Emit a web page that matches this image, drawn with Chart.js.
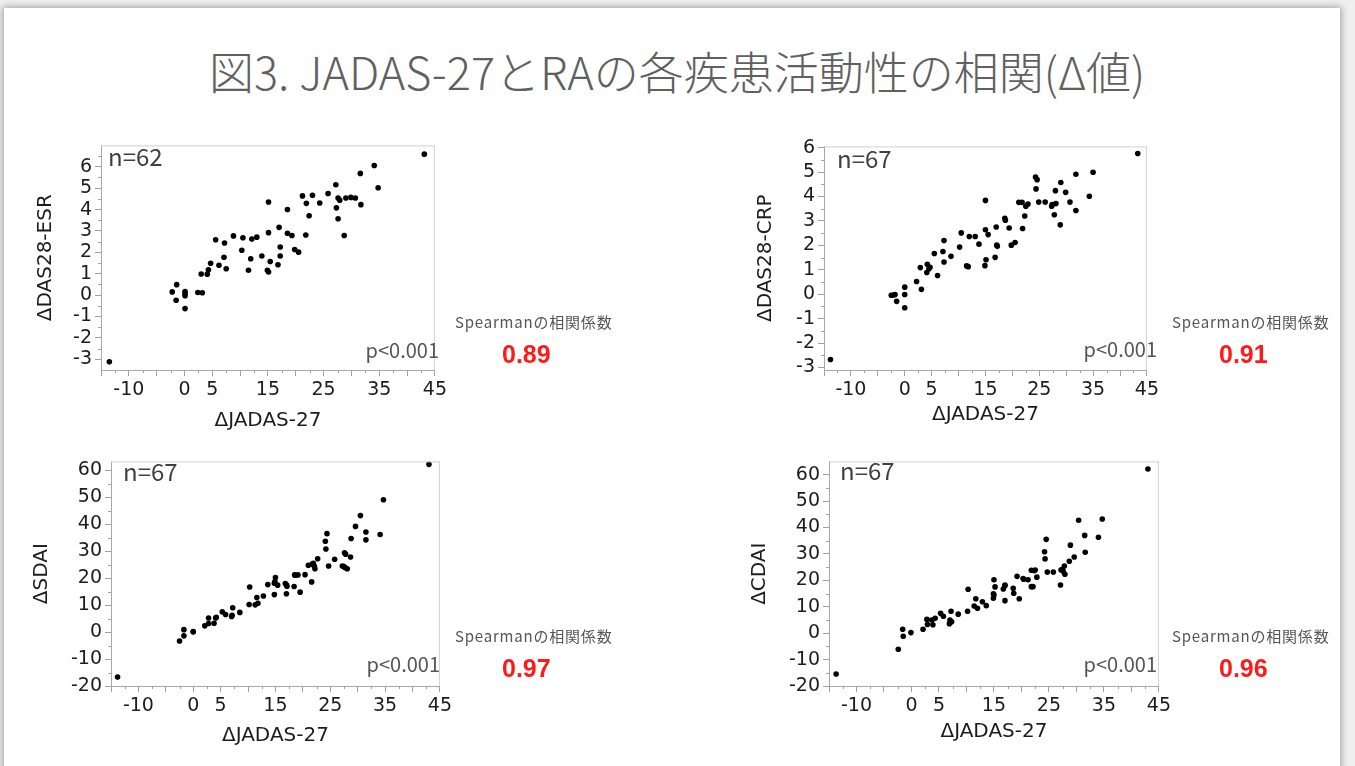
<!DOCTYPE html>
<html>
<head>
<meta charset="utf-8">
<script src="https://cdn.jsdelivr.net/npm/chart.js@4/dist/chart.umd.min.js"></script>
<style>
  html, body { margin: 0; padding: 0; width: 1355px; height: 766px; overflow: hidden; background: #efefef; }
  #slide { position: absolute; left: 4px; top: 8px; width: 1336px; height: 800px; background: #fff;
           box-shadow: 0 0 7px 1px rgba(0,0,0,0.35); }
  #stage { position: absolute; left: 0; top: 0; width: 1355px; height: 766px; }
  .txt { position: absolute; white-space: nowrap; line-height: 1; }
  #title { font-family: "Noto Sans CJK JP", sans-serif; font-weight: 300; font-size: 45px; color: #606060; }
  .n { font-family: "Noto Sans CJK JP", sans-serif; font-size: 24px; color: #404040; }
  .p { font-family: "Noto Sans CJK JP", sans-serif; font-size: 20px; color: #555; }
  .sp { font-family: "Noto Sans CJK JP", sans-serif; font-size: 15px; letter-spacing: 0.8px; color: #555; }
  .rho { font-family: "Liberation Sans", Arial, sans-serif; font-weight: bold; font-size: 25px; color: #ff1a1a; }
</style>
</head>
<body>
<div id="slide"></div>
<div id="stage"></div>
<script>
// ---- shared x axis (ΔJADAS-27) ----
const jadasTickValues = [-15, -10, -5, 0, 5, 10, 15, 20, 25, 30, 35, 40, 45];
const jadasTickLabels = [-10, 0, 5, 15, 25, 35, 45];

// ---- ΔDAS28-ESR vs ΔJADAS-27 ----
const esrJadas = [-13.5, 43.1, 34.1, 34.8, 31.6, 27.2, 25.8, 21.2, 23.0, 21.9,
  24.3, 27.6, 27.9, 29.0, 29.9, 30.7, 27.3, 31.7, 27.6, 28.7,
  22.4, 18.5, 15.1, 21.8, 17.0, 18.5, 19.3, 15.1, 19.8, 20.5,
  17.2, 17.2, 16.8, 15.4, 14.9, 15.1, 13.9, 11.5, 11.9, 10.3,
  12.1, 13.0, 10.5, 8.8, 7.2, 5.6, 7.1, 7.5, 6.2, 4.7,
  4.3, 4.1, 3.0, 2.4, 3.2, 0.1, 0.1, 0.1, -1.4, -2.2, -1.5, 0.1];
const esrDas = [-3.12, 6.59, 6.06, 5.02, 5.69, 5.16, 4.75, 4.64, 4.67, 4.29,
  4.31, 4.54, 4.44, 4.54, 4.57, 4.54, 4.08, 4.23, 3.57, 2.79,
  3.71, 4.00, 4.35, 2.81, 3.17, 2.89, 2.79, 2.92, 2.13, 2.01,
  2.25, 1.83, 1.42, 1.57, 1.16, 1.08, 1.83, 1.16, 1.70, 2.10,
  2.62, 2.71, 2.68, 2.77, 2.44, 2.59, 1.77, 1.23, 1.40, 1.49,
  1.19, 0.98, 0.99, 0.12, 0.11, 0.17, -0.03, -0.63, 0.49, 0.15, -0.24, 0.08];
const esrTicks = [-3, -2, -1, 0, 1, 2, 3, 4, 5, 6];

// ---- ΔDAS28-CRP vs ΔJADAS-27 ----
const crpJadas = [-13.8, 43.3, 35.0, 31.8, 34.3, 29.0, 31.8, 29.9, 30.7, 28.0,
  24.3, 24.6, 24.4, 24.9, 26.1, 27.3, 27.4, 28.1, 27.8, 28.9,
  21.2, 21.8, 22.5, 22.9, 22.3, 21.9, 18.6, 18.7, 19.4, 19.8,
  20.5, 17.0, 17.1, 17.2, 16.8, 15.0, 15.0, 15.5, 15.1, 14.9,
  13.8, 12.0, 13.1, 10.5, 10.2, 11.5, 11.8, 7.3, 7.1, 7.3,
  8.6, 5.5, 6.1, 4.2, 4.5, 4.1, 4.7, 2.9, 3.1, 2.2,
  0.0, 0.0, 0.0, -1.5, -1.8, -2.5, -2.1];
const crpDas = [-2.67, 5.76, 4.99, 4.91, 4.01, 4.57, 3.43, 4.17, 3.77, 4.24,
  4.80, 4.69, 4.31, 3.77, 3.77, 3.60, 3.67, 3.71, 3.25, 2.84,
  3.76, 3.76, 3.60, 3.69, 3.20, 2.69, 3.11, 3.03, 2.71, 2.01,
  2.12, 2.75, 2.01, 1.96, 1.51, 3.84, 2.64, 2.44, 1.41, 1.17,
  2.05, 2.36, 2.36, 2.51, 1.93, 1.16, 1.13, 2.20, 1.75, 1.32,
  1.55, 1.67, 0.77, 1.23, 1.04, 0.89, 1.10, 1.09, 0.20, 0.52,
  0.29, -0.01, -0.55, -0.29, -0.01, -0.04, -0.03];
const crpTicks = [-3, -2, -1, 0, 1, 2, 3, 4, 5, 6];

// ---- ΔSDAI vs ΔJADAS-27 ----
const sdaiJadas = [-13.8, 43.0, 34.7, 30.5, 29.6, 31.5, 31.5, 34.1, 28.8, 24.4,
  24.1, 24.2, 24.7, 25.8, 27.6, 27.8, 28.7, 27.2, 27.7, 28.1,
  22.7, 21.0, 21.7, 22.1, 22.2, 21.6, 20.4, 19.1, 18.5, 18.4,
  19.5, 16.8, 17.1, 17.0, 15.0, 14.8, 15.4, 14.8, 13.6, 12.8,
  11.6, 11.8, 11.3, 10.3, 10.2, 8.5, 7.2, 7.0, 5.9, 5.3,
  4.2, 3.8, 2.8, 2.8, 2.1, 0.0, -1.7, -1.7, -2.5, 18.6,
  4.1, 7.1, 21.9, 27.5, 14.9, 0.0, 17.0];
const sdai = [-16.7, 62.2, 49.1, 43.2, 39.2, 37.1, 34.2, 36.2, 34.7, 36.5,
  33.7, 30.8, 24.5, 27.0, 29.4, 28.9, 27.8, 24.5, 23.9, 23.5,
  27.2, 24.8, 25.2, 24.4, 23.5, 18.6, 21.3, 21.2, 21.2, 16.9,
  14.8, 18.0, 17.0, 14.2, 20.2, 18.1, 17.4, 13.9, 17.6, 13.4,
  12.8, 10.7, 10.1, 16.7, 10.2, 7.3, 9.0, 5.8, 6.5, 7.5,
  5.5, 3.3, 5.2, 3.2, 2.3, 0.0, 0.9, -1.4, -3.3, 21.1,
  5.2, 6.2, 25.5, 24.3, 18.7, 0.2, 17.5];
const sdaiTicks = [-20, -10, 0, 10, 20, 30, 40, 50, 60];

// ---- ΔCDAI vs ΔJADAS-27 ----
const cdaiJadas = [-13.7, 43.0, 34.7, 30.4, 31.5, 34.0, 31.6, 28.9, 29.6, 28.7,
  27.8, 27.9, 27.6, 27.2, 27.1, 24.5, 24.2, 24.3, 24.7, 25.8,
  21.8, 22.3, 22.8, 21.8, 22.1, 20.3, 21.2, 19.2, 19.6, 18.5,
  18.6, 17.0, 16.7, 17.0, 15.0, 15.2, 14.9, 14.9, 13.6, 12.9,
  11.7, 11.4, 12.0, 10.3, 10.2, 8.5, 7.2, 7.0, 6.9, 5.8,
  5.3, 4.3, 3.9, 2.8, 2.9, 2.1, -0.1, -1.6, -1.5, -2.4,
  3.7, 15.0, 7.3, 20.4, 22.5, 17.0, 27.4];
const cdai = [-15.5, 62.1, 43.2, 42.7, 37.0, 36.3, 30.6, 33.3, 28.8, 27.2,
  25.4, 22.3, 23.4, 23.9, 18.2, 35.5, 30.8, 28.1, 23.1, 23.1,
  23.8, 23.6, 21.2, 17.6, 17.6, 20.7, 20.2, 21.5, 13.0, 17.0,
  15.1, 18.2, 16.7, 12.3, 20.2, 17.5, 14.9, 13.2, 10.4, 11.9,
  13.0, 10.3, 9.4, 16.6, 8.3, 7.2, 8.3, 5.0, 3.6, 6.4,
  7.5, 5.6, 3.2, 5.2, 3.3, 1.5, 0.2, 1.5, -1.2, -6.1,
  5.0, 14.4, 4.3, 20.4, 23.9, 17.9, 24.1];
const cdaiTicks = [-20, -10, 0, 10, 20, 30, 40, 50, 60];

// ---- per-panel annotations ----
const panelNames = ['ΔDAS28-ESR', 'ΔDAS28-CRP', 'ΔSDAI', 'ΔCDAI'];
const panelN = [62, 67, 67, 67];
const spearmanRho = ['0.89', '0.91', '0.97', '0.96'];

Chart.defaults.font.family = '"DejaVu Sans", Verdana, sans-serif';

// frame on the top/right of the plot and the short minor tick marks
const frameTicks = {
  id: 'frameTicks',
  afterDraw(chart, args, opts) {
    const { ctx, chartArea: a, scales: { x, y } } = chart;
    ctx.save();
    ctx.lineWidth = 1;
    ctx.strokeStyle = '#d2d2d2';
    ctx.beginPath();
    ctx.moveTo(a.left, a.top + 0.5); ctx.lineTo(a.right, a.top + 0.5);
    ctx.moveTo(a.right - 0.5, a.top); ctx.lineTo(a.right - 0.5, a.bottom);
    ctx.stroke();
    ctx.strokeStyle = '#a0a0a0';
    ctx.beginPath();
    for (let v = x.min + opts.xStep / 2; v < x.max; v += opts.xStep) {
      const px = Math.round(x.getPixelForValue(v)) + 0.5;
      ctx.moveTo(px, a.bottom); ctx.lineTo(px, a.bottom + 3);
    }
    const yStart = Math.ceil(y.min / opts.yStep) * opts.yStep - opts.yStep / 2;
    for (let v = yStart; v < y.max; v += opts.yStep) {
      if (v <= y.min) continue;
      const py = Math.round(y.getPixelForValue(v)) + 0.5;
      ctx.moveTo(a.left, py); ctx.lineTo(a.left - 3, py);
    }
    ctx.stroke();
    ctx.restore();
  }
};

const stage = document.getElementById('stage');

function addText(text, cls, left, top, alignRight) {
  const d = document.createElement('div');
  d.className = 'txt ' + cls;
  d.textContent = text;
  d.style.left = left + 'px';
  d.style.top = top + 'px';
  if (alignRight) d.style.transform = 'translateX(-100%)';
  stage.appendChild(d);
  return d;
}

function buildPanel(p) {
  const c = document.createElement('canvas');
  c.width = p.box.w; c.height = p.box.h;
  c.style.cssText = `position:absolute;left:${p.box.x}px;top:${p.box.y}px;width:${p.box.w}px;height:${p.box.h}px`;
  stage.appendChild(c);
  new Chart(c, {
    type: 'scatter',
    data: {
      datasets: [{
        data: p.xs.map((v, i) => ({ x: v, y: p.ys[i] })),
        pointRadius: 2.8, pointHoverRadius: 2.8,
        pointBackgroundColor: '#000', pointBorderWidth: 0
      }]
    },
    options: {
      responsive: false, animation: false, events: [],
      layout: { padding: { top: 10, right: 12, left: 0, bottom: 0 }, autoPadding: false },
      plugins: {
        legend: { display: false }, tooltip: { enabled: false },
        frameTicks: { xStep: 5, yStep: p.yStep }
      },
      scales: {
        x: {
          type: 'linear', min: -15, max: 45,
          afterBuildTicks: s => { s.ticks = jadasTickValues.map(v => ({ value: v })); },
          afterFit: s => { s.height = p.xAxisH; },
          ticks: {
            autoSkip: false, maxRotation: 0, padding: 3, color: '#1c1c1c', font: { size: 19 },
            callback: v => jadasTickLabels.includes(v) ? String(v) : ''
          },
          grid: { drawOnChartArea: false, tickLength: 6, tickColor: '#a0a0a0' },
          border: { color: '#a8a8a8' },
          title: { display: true, text: 'ΔJADAS-27', color: '#1c1c1c', font: { size: 20 }, padding: { top: 4, bottom: 4 } }
        },
        y: {
          type: 'linear', min: p.yMin, max: p.yMax,
          afterBuildTicks: s => { s.ticks = p.yTicks.map(v => ({ value: v })); },
          afterFit: s => { s.width = p.yAxisW; },
          ticks: { autoSkip: false, padding: 3, color: '#1c1c1c', font: { size: 19 } },
          grid: { drawOnChartArea: false, tickLength: 6, tickColor: '#a0a0a0' },
          border: { color: '#a8a8a8' },
          title: { display: true, text: p.name, color: '#1c1c1c', font: { size: 20 }, padding: { top: 4, bottom: 4 } }
        }
      }
    },
    plugins: [frameTicks]
  });
}

const panels = [
  { name: panelNames[0], xs: esrJadas, ys: esrDas, yTicks: esrTicks, yMin: -3.5, yMax: 7, yStep: 1,
    box: { x: 30, y: 131, w: 420, h: 306 }, yAxisW: 71, xAxisH: 67 },
  { name: panelNames[1], xs: crpJadas, ys: crpDas, yTicks: crpTicks, yMin: -3.1, yMax: 6.05, yStep: 1,
    box: { x: 750, y: 132, w: 412, h: 299 }, yAxisW: 74, xAxisH: 61 },
  { name: panelNames[2], xs: sdaiJadas, ys: sdai, yTicks: sdaiTicks, yMin: -20, yMax: 63.3, yStep: 10,
    box: { x: 26, y: 447, w: 429, h: 305 }, yAxisW: 85, xAxisH: 66 },
  { name: panelNames[3], xs: cdaiJadas, ys: cdai, yTicks: cdaiTicks, yMin: -20, yMax: 65, yStep: 10,
    box: { x: 744, y: 447, w: 430, h: 301 }, yAxisW: 85, xAxisH: 62 }
];
panels.forEach(buildPanel);

// title
const t = addText('図3. JADAS-27とRAの各疾患活動性の相関(Δ値)', '', 0, 48);
t.id = 'title';
t.style.left = (677 - t.offsetWidth / 2) + 'px';

// sample sizes and p-values inside the plots
addText('n=' + panelN[0], 'n', 108, 144);
addText('n=' + panelN[1], 'n', 837, 146);
addText('n=' + panelN[2], 'n', 123, 459);
addText('n=' + panelN[3], 'n', 840, 458);
addText('p<0.001', 'p', 439, 340, true);
addText('p<0.001', 'p', 1157, 339, true);
addText('p<0.001', 'p', 440, 654, true);
addText('p<0.001', 'p', 1157, 654, true);

// Spearman coefficients
addText('Spearmanの相関係数', 'sp', 455, 314);
addText('Spearmanの相関係数', 'sp', 1172, 314);
addText('Spearmanの相関係数', 'sp', 455, 628);
addText('Spearmanの相関係数', 'sp', 1172, 628);
addText(spearmanRho[0], 'rho', 502, 342);
addText(spearmanRho[1], 'rho', 1219, 342);
addText(spearmanRho[2], 'rho', 502, 656);
addText(spearmanRho[3], 'rho', 1219, 656);
</script>
</body>
</html>
